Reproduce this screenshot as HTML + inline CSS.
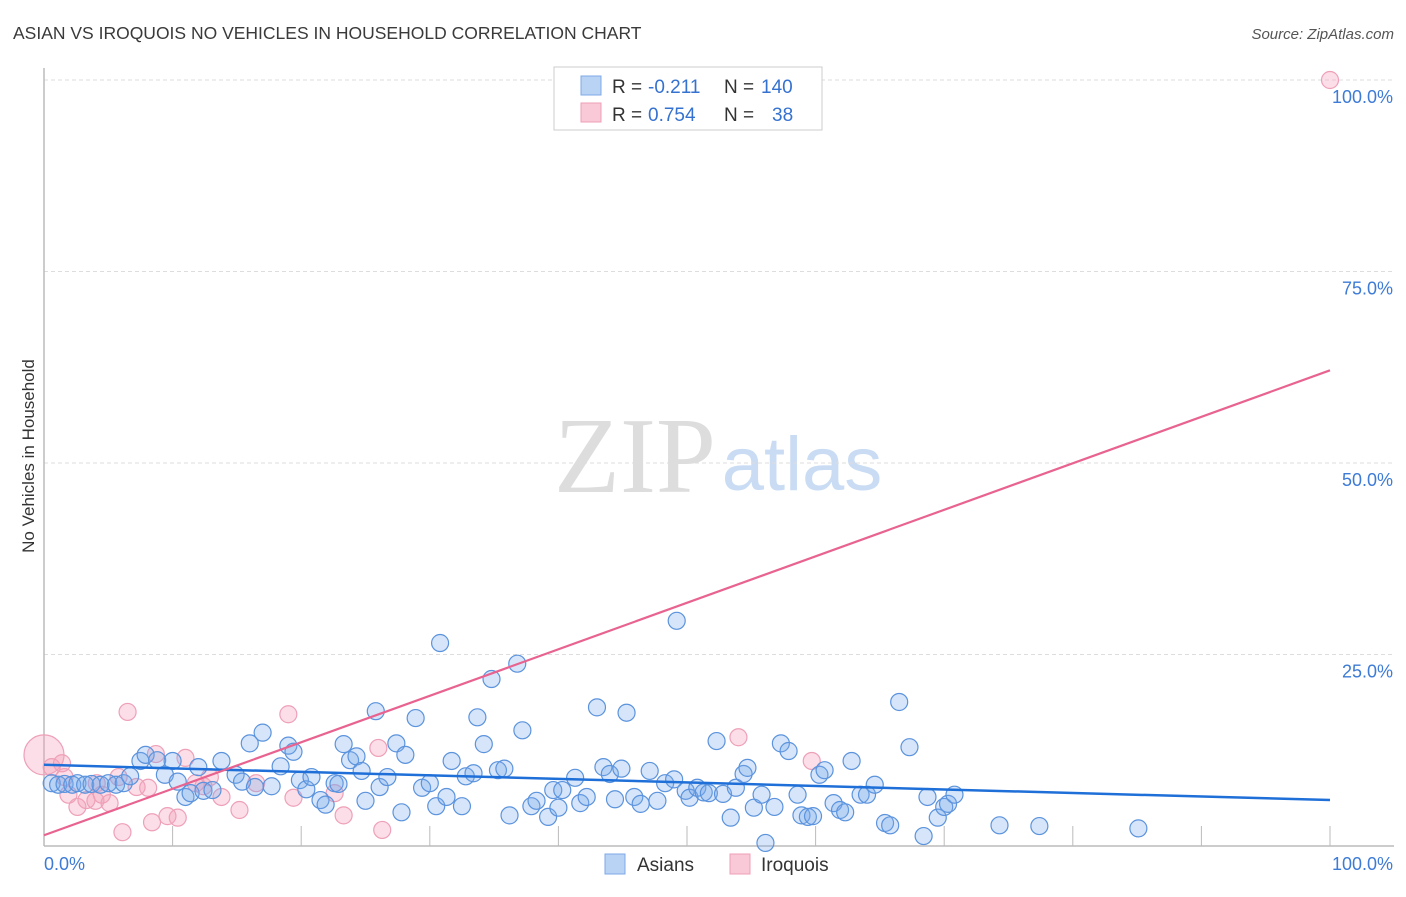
<!DOCTYPE html>
<html><head><meta charset="utf-8"><style>
body{margin:0;background:#fff;font-family:"Liberation Sans",sans-serif;}
svg text{font-family:"Liberation Sans",sans-serif;}
</style></head><body>
<svg id="chart" width="1406" height="892" xmlns="http://www.w3.org/2000/svg">
<text x="13" y="39" font-size="17.5" fill="#3a3a3a">ASIAN VS IROQUOIS NO VEHICLES IN HOUSEHOLD CORRELATION CHART</text>
<text x="1394" y="39" font-size="15" fill="#555" font-style="italic" text-anchor="end">Source: ZipAtlas.com</text>
<text transform="translate(34,456) rotate(-90)" font-size="17" fill="#333" text-anchor="middle">No Vehicles in Household</text>
<g>
<text x="635" y="492" font-size="108" fill="#ddd" text-anchor="middle" style="font-family:'Liberation Serif',serif">ZIP</text>
<text x="802" y="490" font-size="76" fill="#c9dcf3" text-anchor="middle">atlas</text>
</g>
<g id="grid"></g>
<g id="axes"></g>
<g id="marks"></g>
<g id="lines"></g>
<g>
<rect x="554" y="67" width="268" height="63" fill="#fff" stroke="#ccc"/>
<rect x="581" y="76" width="20" height="19" fill="#b9d3f5" stroke="#7ea9e6"/>
<rect x="581" y="103" width="20" height="19" fill="#f9c9d7" stroke="#ee9fb7"/>
<text x="612" y="93" font-size="19" fill="#333">R =</text>
<text x="648" y="93" font-size="19" fill="#3572d0">-0.211</text>
<text x="724" y="93" font-size="19" fill="#333">N =</text>
<text x="761" y="93" font-size="19" fill="#3572d0">140</text>
<text x="612" y="121" font-size="19" fill="#333">R =</text>
<text x="648" y="121" font-size="19" fill="#3572d0">0.754</text>
<text x="724" y="121" font-size="19" fill="#333">N =</text>
<text x="772" y="121" font-size="19" fill="#3572d0">38</text>
</g>
<g>
<rect x="605" y="854" width="20" height="20" fill="#b9d3f5" stroke="#7ea9e6"/>
<text x="637" y="871" font-size="19" fill="#333">Asians</text>
<rect x="730" y="854" width="20" height="20" fill="#f9c9d7" stroke="#ee9fb7"/>
<text x="761" y="871" font-size="19" fill="#333">Iroquois</text>
</g>
</svg>
<script>
const yTicks=[25,50,75,100];
const yTickLabels=["25.0%","50.0%","75.0%","100.0%"];
const xTicks=[10,20,30,40,50,60,70,80,90,100];
const asiansX=[0.6,1.1,1.6,2.2,2.6,3.2,3.7,4.4,5.0,5.6,6.2,6.7,7.5,7.9,8.8,9.4,10.0,10.4,11.0,11.4,12.0,12.4,13.1,13.8,14.9,15.4,16.0,16.4,17.0,17.7,18.4,19.0,19.4,19.9,20.4,20.8,21.5,21.9,22.6,22.9,23.3,23.8,24.3,24.7,25.0,25.8,26.1,26.7,27.4,27.8,28.1,28.9,29.4,30.0,30.5,30.8,31.3,31.7,32.5,32.8,33.4,33.7,34.2,34.8,35.3,35.8,36.2,36.8,37.2,37.9,38.3,39.2,39.6,40.0,40.3,41.3,41.7,42.2,43.0,43.5,44.0,44.4,44.9,45.3,45.9,46.4,47.1,47.7,48.3,49.0,49.2,49.9,50.2,50.8,51.3,51.7,52.3,52.8,53.4,53.8,54.4,54.7,55.2,55.8,56.1,56.8,57.3,57.9,58.6,58.9,59.4,59.8,60.3,60.7,61.4,61.9,62.3,62.8,63.5,64.0,64.6,65.4,65.8,66.5,67.3,68.4,68.7,69.5,70.0,70.3,70.8,74.3,77.4,85.1];
const asiansY=[8.2,8.0,8.1,8.0,8.2,8.0,8.1,8.0,8.2,8.0,8.2,9.1,11.1,11.9,11.2,9.3,11.1,8.4,6.4,6.9,10.3,7.2,7.3,11.1,9.3,8.4,13.4,7.7,14.8,7.8,10.4,13.1,12.3,8.6,7.4,9.0,6.0,5.4,8.2,8.1,13.3,11.2,11.7,9.8,5.9,17.6,7.7,9.0,13.4,4.4,11.9,16.7,7.6,8.2,5.2,26.5,6.4,11.1,5.2,9.1,9.5,16.8,13.3,21.8,9.9,10.1,4.0,23.8,15.1,5.2,5.9,3.8,7.3,5.0,7.3,8.9,5.6,6.4,18.1,10.3,9.4,6.1,10.1,17.4,6.4,5.5,9.8,5.9,8.2,8.7,29.4,7.2,6.3,7.6,7.0,6.9,13.7,6.8,3.7,7.6,9.4,10.2,5.0,6.7,0.4,5.1,13.4,12.4,6.7,4.0,3.8,3.9,9.3,9.9,5.6,4.7,4.4,11.1,6.7,6.7,8.0,3.0,2.7,18.8,12.9,1.3,6.4,3.7,5.1,5.5,6.7,2.7,2.6,2.3];
const iroquoisX=[0,0.6,1.4,1.6,1.9,2.6,3.3,4.0,4.1,4.5,5.1,5.8,6.1,6.5,7.2,8.1,8.4,8.7,9.6,10.4,11.0,11.8,12.4,12.9,13.8,15.2,16.5,19.0,19.4,22.6,23.3,26.0,26.3,54.0,59.7,100];
const iroquoisY=[11.9,10.3,10.8,9.0,6.7,5.1,6.0,5.9,8.2,6.7,5.6,9.0,1.8,17.5,7.7,7.6,3.1,12.0,3.9,3.7,11.5,8.2,7.8,9.0,6.4,4.7,8.2,17.2,6.3,6.9,4.0,12.8,2.1,14.2,11.1,100];
const asiansTrend=[10.6,6.0];
const iroquoisTrend=[1.4,62.1];
const NS="http://www.w3.org/2000/svg";
const X0=44,X1=1330,Y0=846,Y100=80;
const sx=v=>X0+(X1-X0)*v/100;
const sy=v=>Y0-(Y0-Y100)*v/100;
function mk(tag,attrs,parent){const e=document.createElementNS(NS,tag);for(const k in attrs)e.setAttribute(k,attrs[k]);document.getElementById(parent).appendChild(e);return e;}
yTicks.forEach((t,i)=>{
 const l=mk('line',{x1:X0,x2:1394,y1:sy(t),y2:sy(t),stroke:'#ddd','stroke-dasharray':'4,3'},'grid');
 
 
 const tx=mk('text',{x:1393,y:sy(t)+23,'font-size':18,fill:'#3d7bd6','text-anchor':'end'},'grid');
 tx.textContent=yTickLabels[i];
 
 
});
const ax=mk('line',{x1:X0,x2:X0,y1:68,y2:Y0,stroke:'#bbb','stroke-width':1.5},'axes');


const bx=mk('line',{x1:X0,x2:1394,y1:Y0,y2:Y0,stroke:'#bbb','stroke-width':1.5},'axes');


xTicks.forEach(t=>{
 const l=mk('line',{x1:sx(t),x2:sx(t),y1:Y0-20,y2:Y0,stroke:'#bbb'},'axes');
 
 
});
const xl0=mk('text',{x:44,y:870,'font-size':18,fill:'#3d7bd6'},'axes');xl0.textContent='0.0%';


const xl1=mk('text',{x:1393,y:870,'font-size':18,fill:'#3d7bd6','text-anchor':'end'},'axes');xl1.textContent='100.0%';


iroquoisX.forEach((x,i)=>{
 const c=mk('circle',{cx:sx(x),cy:sy(iroquoisY[i]),r:(x===0&&i===0)?20:8.5,fill:'rgba(244,160,185,0.35)',stroke:'#eea0b8','stroke-width':1.2},'marks');
 
 
});
asiansX.forEach((x,i)=>{
 const c=mk('circle',{cx:sx(x),cy:sy(asiansY[i]),r:8.5,fill:'rgba(120,170,235,0.3)',stroke:'#5b93dd','stroke-width':1.2},'marks');
 
 
});
const tl1=mk('line',{x1:sx(0),x2:sx(100),y1:sy(asiansTrend[0]),y2:sy(asiansTrend[1]),stroke:'#1f6fd8','stroke-width':2.5},'lines');


const tl2=mk('line',{x1:sx(0),x2:sx(100),y1:sy(iroquoisTrend[0]),y2:sy(iroquoisTrend[1]),stroke:'#e8638f','stroke-width':2.2},'lines');


</script>
</body></html>
